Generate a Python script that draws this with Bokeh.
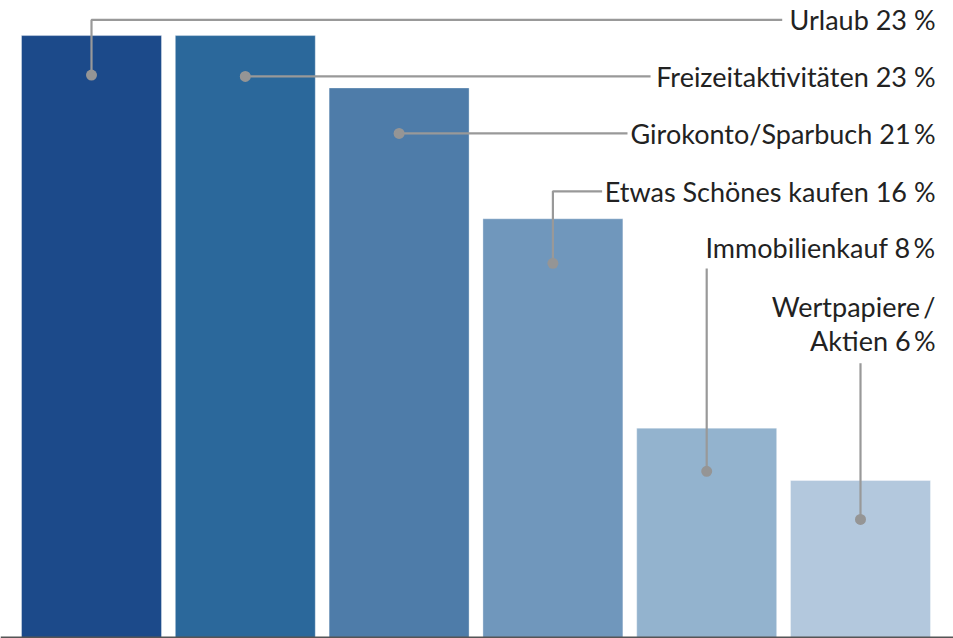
from bokeh.plotting import figure
from bokeh.models import Range1d, Span, ColumnDataSource
from bokeh.core.properties import value
from bokeh.embed import file_html
from bokeh.resources import INLINE

# ---- data ----
categories = ["Urlaub", "Freizeitaktivitäten", "Girokonto/Sparbuch",
              "Etwas Schönes kaufen", "Immobilienkauf", "Wertpapiere/Aktien"]
shares = [23, 23, 21, 16, 8, 6]
bar_colors = ["#1c4a8a", "#2b689b", "#4e7ca9", "#7097bc", "#93b3ce", "#b3c8dd"]
label_lines = [["Urlaub 23 %"], ["Freizeitaktivitäten 23 %"], ["Girokonto/Sparbuch 21\u2009%"],
               ["Etwas Schönes kaufen 16 %"], ["Immobilienkauf 8\u2009%"],
               ["Wertpapiere\u2009/", "Aktien 6\u2009%"]]

# ---- layout helpers (data units) ----
PX = 26.17                      # pixels per percentage point
XS = 153.8                      # pixels per category step
W, H = 953, 638
x0 = -91 / XS
y0 = -1 / PX
dot_drop = [1.51, 1.56, 1.74, 1.70, 1.65, 1.49]          # dot below bar top
elbow_y = [23.60, None, None, 17.05, 14.10, 10.48]        # leader vertical end
line_end_x = [4.491, 3.635, 3.485, 3.320, None, None]     # leader horizontal end
label_mid = [[23.60], [21.44], [19.26], [17.05], [14.90], [12.63, 11.35]]
label_x = 5.488

p = figure(width=W, height=H, output_backend="svg", toolbar_location=None,
           x_range=Range1d(x0, x0 + W / XS), y_range=Range1d(y0, y0 + H / PX),
           x_axis_type=None, y_axis_type=None, min_border=0,
           background_fill_color="white", border_fill_color="white",
           outline_line_color=None)
p.xgrid.visible = False
p.ygrid.visible = False

idx = list(range(len(shares)))
src = ColumnDataSource(dict(x=idx, top=shares, color=bar_colors, cat=categories))
p.vbar(x="x", top="top", bottom=0, width=0.91, fill_color="color",
       line_color="white", line_alpha=0.35, line_width=1, source=src)

p.add_layout(Span(location=0, dimension="width", line_color="#555555", line_width=2))

# leader lines
xs_l, ys_l, dx, dy = [], [], [], []
for i, v in enumerate(shares):
    d = v - dot_drop[i]
    dx.append(i)
    dy.append(d)
    xs = [i]
    ys = [d]
    if elbow_y[i] is not None:
        xs.append(i)
        ys.append(elbow_y[i])
    if line_end_x[i] is not None:
        xs.append(line_end_x[i])
        ys.append(ys[-1])
    xs_l.append(xs)
    ys_l.append(ys)
p.multi_line(xs=xs_l, ys=ys_l, line_color="#999999", line_width=2.2)
p.scatter(x=dx, y=dy, size=11, fill_color="#959595", line_color=None)

# labels
tx, ty, tt = [], [], []
for lines, mids in zip(label_lines, label_mid):
    for t, b in zip(lines, mids):
        tx.append(label_x)
        ty.append(b)
        tt.append(t)
p.text(x=tx, y=ty, text=tt, text_align="right", text_baseline="middle",
       text_font=value("Lato"), text_font_size="27px", text_color="#222222")

open("out.html", "w").write(file_html(p, INLINE))
